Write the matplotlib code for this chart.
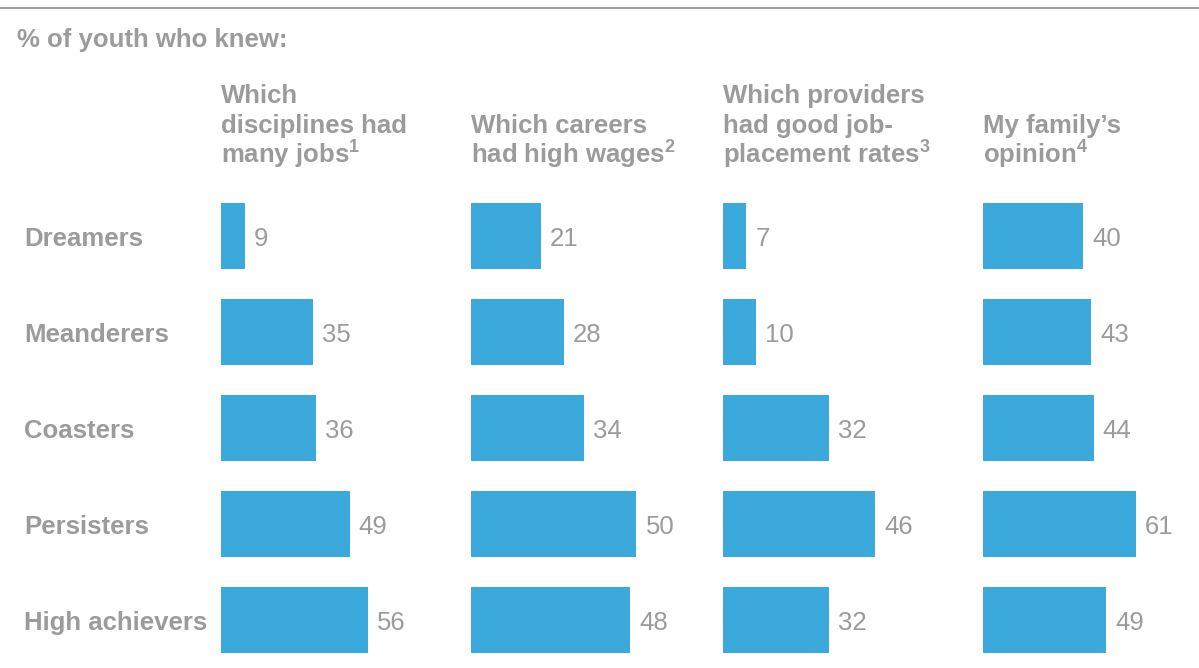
import matplotlib
matplotlib.use("Agg")
import matplotlib.pyplot as plt
from matplotlib.transforms import blended_transform_factory, offset_copy

# Data
groups = ["Dreamers", "Meanderers", "Coasters", "Persisters", "High achievers"]
many_jobs = [9, 35, 36, 49, 56]
high_wages = [21, 28, 34, 50, 48]
placement_rates = [7, 10, 32, 46, 32]
family_opinion = [40, 43, 44, 61, 49]

headers = [
    ["Which", "disciplines had", r"many jobs$^{\mathbf{1}}$"],
    ["Which careers", r"had high wages$^{\mathbf{2}}$"],
    ["Which providers", "had good job-", r"placement rates$^{\mathbf{3}}$"],
    ["My family\u2019s", r"opinion$^{\mathbf{4}}$"],
]
series = [many_jobs, high_wages, placement_rates, family_opinion]
title = "% of youth who knew:"

plt.rcParams["font.family"] = "Liberation Sans"
plt.rcParams["mathtext.fontset"] = "custom"
plt.rcParams["mathtext.rm"] = "Liberation Sans"
plt.rcParams["mathtext.bf"] = "Liberation Sans:bold"

BAR = "#3BA9DC"
GREY = "#9B9B9B"
FS = 18.5

W, H = 1199, 668
fig = plt.figure(figsize=(W / 100, H / 100), dpi=100)

def fx(px):
    return px / W

def fy(py):
    return 1 - py / H

# top rule and title
fig.add_artist(plt.Line2D([0, 1], [fy(8), fy(8)], color="#A0A0A0", lw=1.5))
fig.text(fx(17), fy(47), title, fontsize=FS, fontweight="bold", color=GREY, va="baseline")

# panel geometry (pixels): left, width, x-limit
panels = [(221, 235, 89.5), (471, 235, 71), (723, 235, 71), (983, 216, 86)]

axes = []
for (left, width, xmax), vals, head in zip(panels, series, headers):
    ax = fig.add_axes([fx(left), 0, width / W, 480 / H])
    ax.barh(range(len(groups)), vals, height=0.69, color=BAR)
    ax.set_xlim(0, xmax)
    ax.set_ylim(len(groups) - 0.5, -0.5)
    ax.axis("off")
    for i, v in enumerate(vals):
        ax.annotate(str(v), xy=(v, i), xytext=(6.5, -2), textcoords="offset points",
                    va="center", ha="left", fontsize=FS, color=GREY)
    n = len(head)
    for j, line in enumerate(head):
        fig.text(fx(left), fy(163 - 30 * (n - 1 - j)), line, fontsize=FS,
                 fontweight="bold", color=GREY, va="baseline", ha="left")
    axes.append(ax)

# row labels
tr = blended_transform_factory(fig.transFigure, axes[0].transData)
tr = offset_copy(tr, fig=fig, x=0, y=-2, units="points")
for i, g in enumerate(groups):
    fig.text(fx(24), i, g, transform=tr, fontsize=FS, fontweight="bold",
             color=GREY, va="center", ha="left")

fig.savefig("out.png", dpi=100)
